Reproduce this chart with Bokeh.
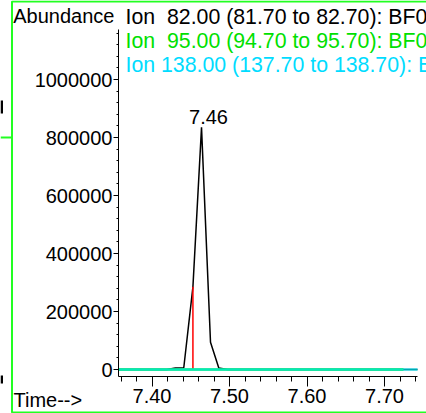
from bokeh.plotting import figure
from bokeh.models import (Range1d, SingleIntervalTicker, BasicTickFormatter,
                          PrintfTickFormatter, Label, PolyAnnotation, BoxAnnotation)
from bokeh.embed import file_html
from bokeh.resources import INLINE

# ---- data ----
ion82_time = [7.3568, 7.4191, 7.4303, 7.4410, 7.4528, 7.4639, 7.4755, 7.4862, 7.4974, 7.7426]
ion82_abund = [0, 0, 5000, 6000, 285000, 835000, 94000, 5000, 0, 0]
marker_time = [7.4528, 7.4528]
marker_abund = [0, 285000]
ion95_time = [7.3568, 7.7245]
ion95_abund = [0, 0]
ion138_time = [7.3568, 7.7426]
ion138_abund = [0, 0]
peak_label = "7.46"
legend_texts = ["Ion \u00a082.00 (81.70 to 82.70): BF0",
                "Ion \u00a095.00 (94.70 to 95.70): BF0",
                "Ion 138.00 (137.70 to 138.70): B"]
legend_colors = ["#000000", "#00e000", "#00dcff"]
x_ticks_interval = 0.1
y_ticks_interval = 200000

# ---- layout: the frame covers the whole canvas; axes are placed at fixed locations ----
W, H = 426, 413
XPX = 775.0          # px per minute
X_REF, X_REF_PX = 7.40, 151.5
YPX = 58.0 / 200000  # px per abundance unit
Y_REF_PX = 369.0     # px of abundance 0
AX_LEFT_PX, AX_RIGHT_PX, AX_TOP_PX, AX_BOTTOM_PX = 118, 417, 29, 376
FONT = "Liberation Sans"
FIX = 6.0            # text baseline correction, px

def dx(px):
    return X_REF + (px - X_REF_PX) / XPX

def dy(py):
    return (Y_REF_PX - py) / YPX

p = figure(width=W, height=H, output_backend="svg", toolbar_location=None,
           x_range=Range1d(dx(0), dx(W)), y_range=Range1d(dy(H), dy(0)),
           min_border=0, min_border_left=0, min_border_right=0,
           min_border_top=0, min_border_bottom=0)
p.outline_line_color = None
p.grid.visible = False
p.background_fill_color = "white"
p.border_fill_color = "white"

xa = p.xaxis[0]
xa.fixed_location = dy(AX_BOTTOM_PX)
xa.bounds = (dx(AX_LEFT_PX), dx(AX_RIGHT_PX))
xa.ticker = SingleIntervalTicker(interval=x_ticks_interval, num_minor_ticks=5)
xa.formatter = PrintfTickFormatter(format="%.2f")
xa.major_tick_out = 10
xa.major_tick_in = 0
xa.minor_tick_out = 5
xa.minor_tick_in = 0
xa.major_label_standoff = 2
xa.major_label_text_font = FONT
xa.major_label_text_font_size = "20px"
xa.major_label_text_color = "black"
xa.axis_line_color = "black"
xa.major_tick_line_color = "black"
xa.minor_tick_line_color = "black"

ya = p.yaxis[0]
ya.fixed_location = dx(AX_LEFT_PX)
ya.bounds = (dy(AX_BOTTOM_PX), dy(AX_TOP_PX))
ya.ticker = SingleIntervalTicker(interval=y_ticks_interval, num_minor_ticks=5)
ya.formatter = BasicTickFormatter(use_scientific=False)
ya.major_tick_out = 5
ya.major_tick_in = 0
ya.minor_tick_out = 2
ya.minor_tick_in = 0
ya.major_label_standoff = 1
ya.major_label_text_font = FONT
ya.major_label_text_font_size = "20px"
ya.major_label_text_color = "black"
ya.axis_line_color = "black"
ya.major_tick_line_color = "black"
ya.minor_tick_line_color = "black"

# traces
p.line(ion82_time, ion82_abund, line_color="black", line_width=1.5)
p.line(marker_time, marker_abund, line_color="#ff0000", line_width=1.5)
p.line(ion95_time, ion95_abund, line_color="#10e010", line_width=2.5)
p.line(ion138_time, ion138_abund, line_color="#00eeff", line_width=2.5, line_alpha=0.7)

# peak label
ipk = ion82_abund.index(max(ion82_abund))
p.add_layout(Label(x=ion82_time[ipk] + 7 / XPX, y=ion82_abund[ipk] + (4.3 + FIX) / YPX,
                   text=peak_label, text_align="center", text_baseline="alphabetic",
                   text_font=FONT, text_font_size="20px", text_color="black"))

# header / legend texts
p.add_layout(Label(x=dx(12.7), y=dy(21.7 - FIX), text="Abundance", text_baseline="alphabetic",
                   text_font=FONT, text_font_size="20px", text_color="black"))
for i, (t, c) in enumerate(zip(legend_texts, legend_colors)):
    p.add_layout(Label(x=dx(125), y=dy(22.7 + 24 * i - FIX), text=t, text_baseline="alphabetic",
                       text_font=FONT, text_font_size="21.3px", text_color=c))
p.add_layout(Label(x=dx(13), y=dy(405.5 - FIX), text="Time-->", text_baseline="alphabetic",
                   text_font=FONT, text_font_size="20px", text_color="black"))

# green panel border
p.add_layout(PolyAnnotation(xs=[dx(11.5), dx(11.5), dx(460), dx(460)],
                            ys=[dy(1), dy(412), dy(412), dy(1)],
                            fill_alpha=0, line_color="#22ff22", line_alpha=1, line_width=2))
# fragments of the neighbouring panel at the left edge
p.add_layout(BoxAnnotation(left=dx(0), right=dx(2.5), top=dy(100), bottom=dy(113),
                           fill_color="black", fill_alpha=1, line_alpha=0))
p.add_layout(BoxAnnotation(left=dx(0), right=dx(2.5), top=dy(375), bottom=dy(383),
                           fill_color="black", fill_alpha=1, line_alpha=0))
p.add_layout(BoxAnnotation(left=dx(0), right=dx(10.5), top=dy(136), bottom=dy(138),
                           fill_color="#22ff22", fill_alpha=1, line_alpha=0))

open("out.html", "w").write(file_html(p, INLINE))
